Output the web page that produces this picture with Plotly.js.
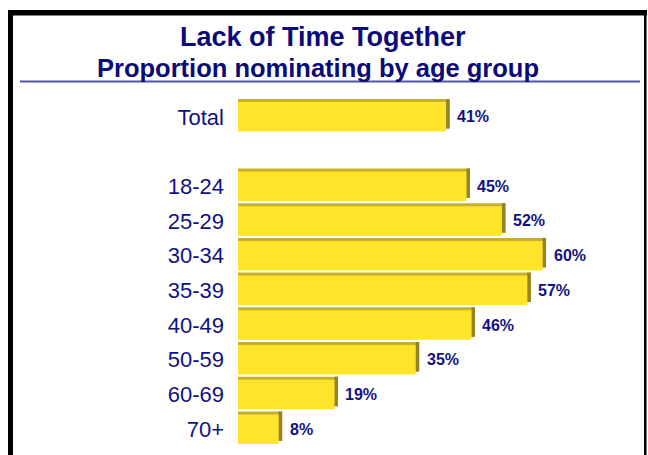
<!DOCTYPE html>
<html>
<head>
<meta charset="utf-8">
<script src="https://cdn.plot.ly/plotly-3.0.1.min.js"></script>
<style>html,body{margin:0;padding:0;background:#fff;}#chart{width:648px;height:455px;}</style>
</head>
<body>
<div id="chart"></div>
<script>
// ---- data ----
const categories = ["Total", " ", "18-24", "25-29", "30-34", "35-39", "40-49", "50-59", "60-69", "70+"];
const barCategories = ["Total", "18-24", "25-29", "30-34", "35-39", "40-49", "50-59", "60-69", "70+"];
const values = [41, 45, 52, 60, 57, 46, 35, 19, 8];
const titleLine1 = "Lack of Time Together";
const titleLine2 = "Proportion nominating by age group";

// ---- styling ----
const W = 648, H = 455;
const M = {l: 238, r: 30, t: 96, b: 5};
const pw = W - M.l - M.r, ph = H - M.t - M.b;
const px2x = p => (p - M.l) / pw;
const px2y = p => (H - M.b - p) / ph;
const navy = "#12127f";
const font = "Liberation Sans, Arial, Helvetica, sans-serif";
const depth = 0.7;       // 3D depth in x units
const barW = 0.85;
const dy = 0.087;        // 3D depth in category units

const topFace = {
  type: "bar", orientation: "h", y: barCategories, x: values.map(v => v + depth),
  base: 0, width: barW, offset: -barW / 2 - dy,
  marker: {color: "#c8b02c", line: {width: 0}}, hoverinfo: "skip"
};
const sideFace = {
  type: "bar", orientation: "h", y: barCategories, x: values.map(() => depth),
  base: values, width: barW, offset: -barW / 2 - dy,
  marker: {color: "#958522", line: {width: 0}}, hoverinfo: "skip"
};
const front = {
  type: "bar", orientation: "h", y: barCategories, x: values,
  width: barW, offset: -barW / 2,
  marker: {color: "#ffe52a", line: {width: 0}}
};

const labelAnns = barCategories.map((c, i) => ({
  x: values[i], y: c, xref: "x", yref: "y", text: "<b>" + values[i] + "%</b>",
  showarrow: false, xanchor: "left", yanchor: "middle", xshift: 9,
  font: {family: font, size: 16, color: navy}
}));

const titleAnns = [
  {text: "<b>" + titleLine1 + "</b>", x: px2x(323), y: px2y(36.5), xref: "paper", yref: "paper",
   xanchor: "center", yanchor: "middle", showarrow: false, font: {family: font, size: 27, color: "#0a0a78"}},
  {text: "<b>" + titleLine2 + "</b>", x: px2x(317.5), y: px2y(68.5), xref: "paper", yref: "paper",
   xanchor: "center", yanchor: "middle", showarrow: false, font: {family: font, size: 25.5, color: "#0a0a78"}}
];

const shapes = [
  {type: "line", xref: "paper", yref: "paper", x0: px2x(20), x1: px2x(640), y0: px2y(81.5), y1: px2y(81.5),
   line: {color: "#5252a8", width: 2}},
  {type: "rect", xref: "paper", yref: "paper", x0: px2x(8), x1: px2x(13), y0: px2y(10), y1: px2y(470),
   fillcolor: "#000", line: {width: 0}},
  {type: "rect", xref: "paper", yref: "paper", x0: px2x(8), x1: px2x(647), y0: px2y(10), y1: px2y(15.5),
   fillcolor: "#000", line: {width: 0}},
  {type: "rect", xref: "paper", yref: "paper", x0: px2x(644), x1: px2x(646.5), y0: px2y(10), y1: px2y(470),
   fillcolor: "#000", line: {width: 0}}
];

const layout = {
  width: W, height: H, margin: M,
  paper_bgcolor: "#fff", plot_bgcolor: "#fff",
  barmode: "overlay", showlegend: false,
  xaxis: {range: [0, pw / 5.075], visible: false, fixedrange: true},
  yaxis: {type: "category", categoryorder: "array", categoryarray: categories,
          range: [categories.length - 0.4, -0.6], showgrid: false, zeroline: false, showline: false,
          ticks: "", ticklabelstandoff: 13,
          tickfont: {family: font, size: 22, color: navy}, fixedrange: true},
  annotations: titleAnns.concat(labelAnns),
  shapes: shapes
};

Plotly.newPlot("chart", [topFace, sideFace, front], layout, {displayModeBar: false, staticPlot: true});
</script>
</body>
</html>
